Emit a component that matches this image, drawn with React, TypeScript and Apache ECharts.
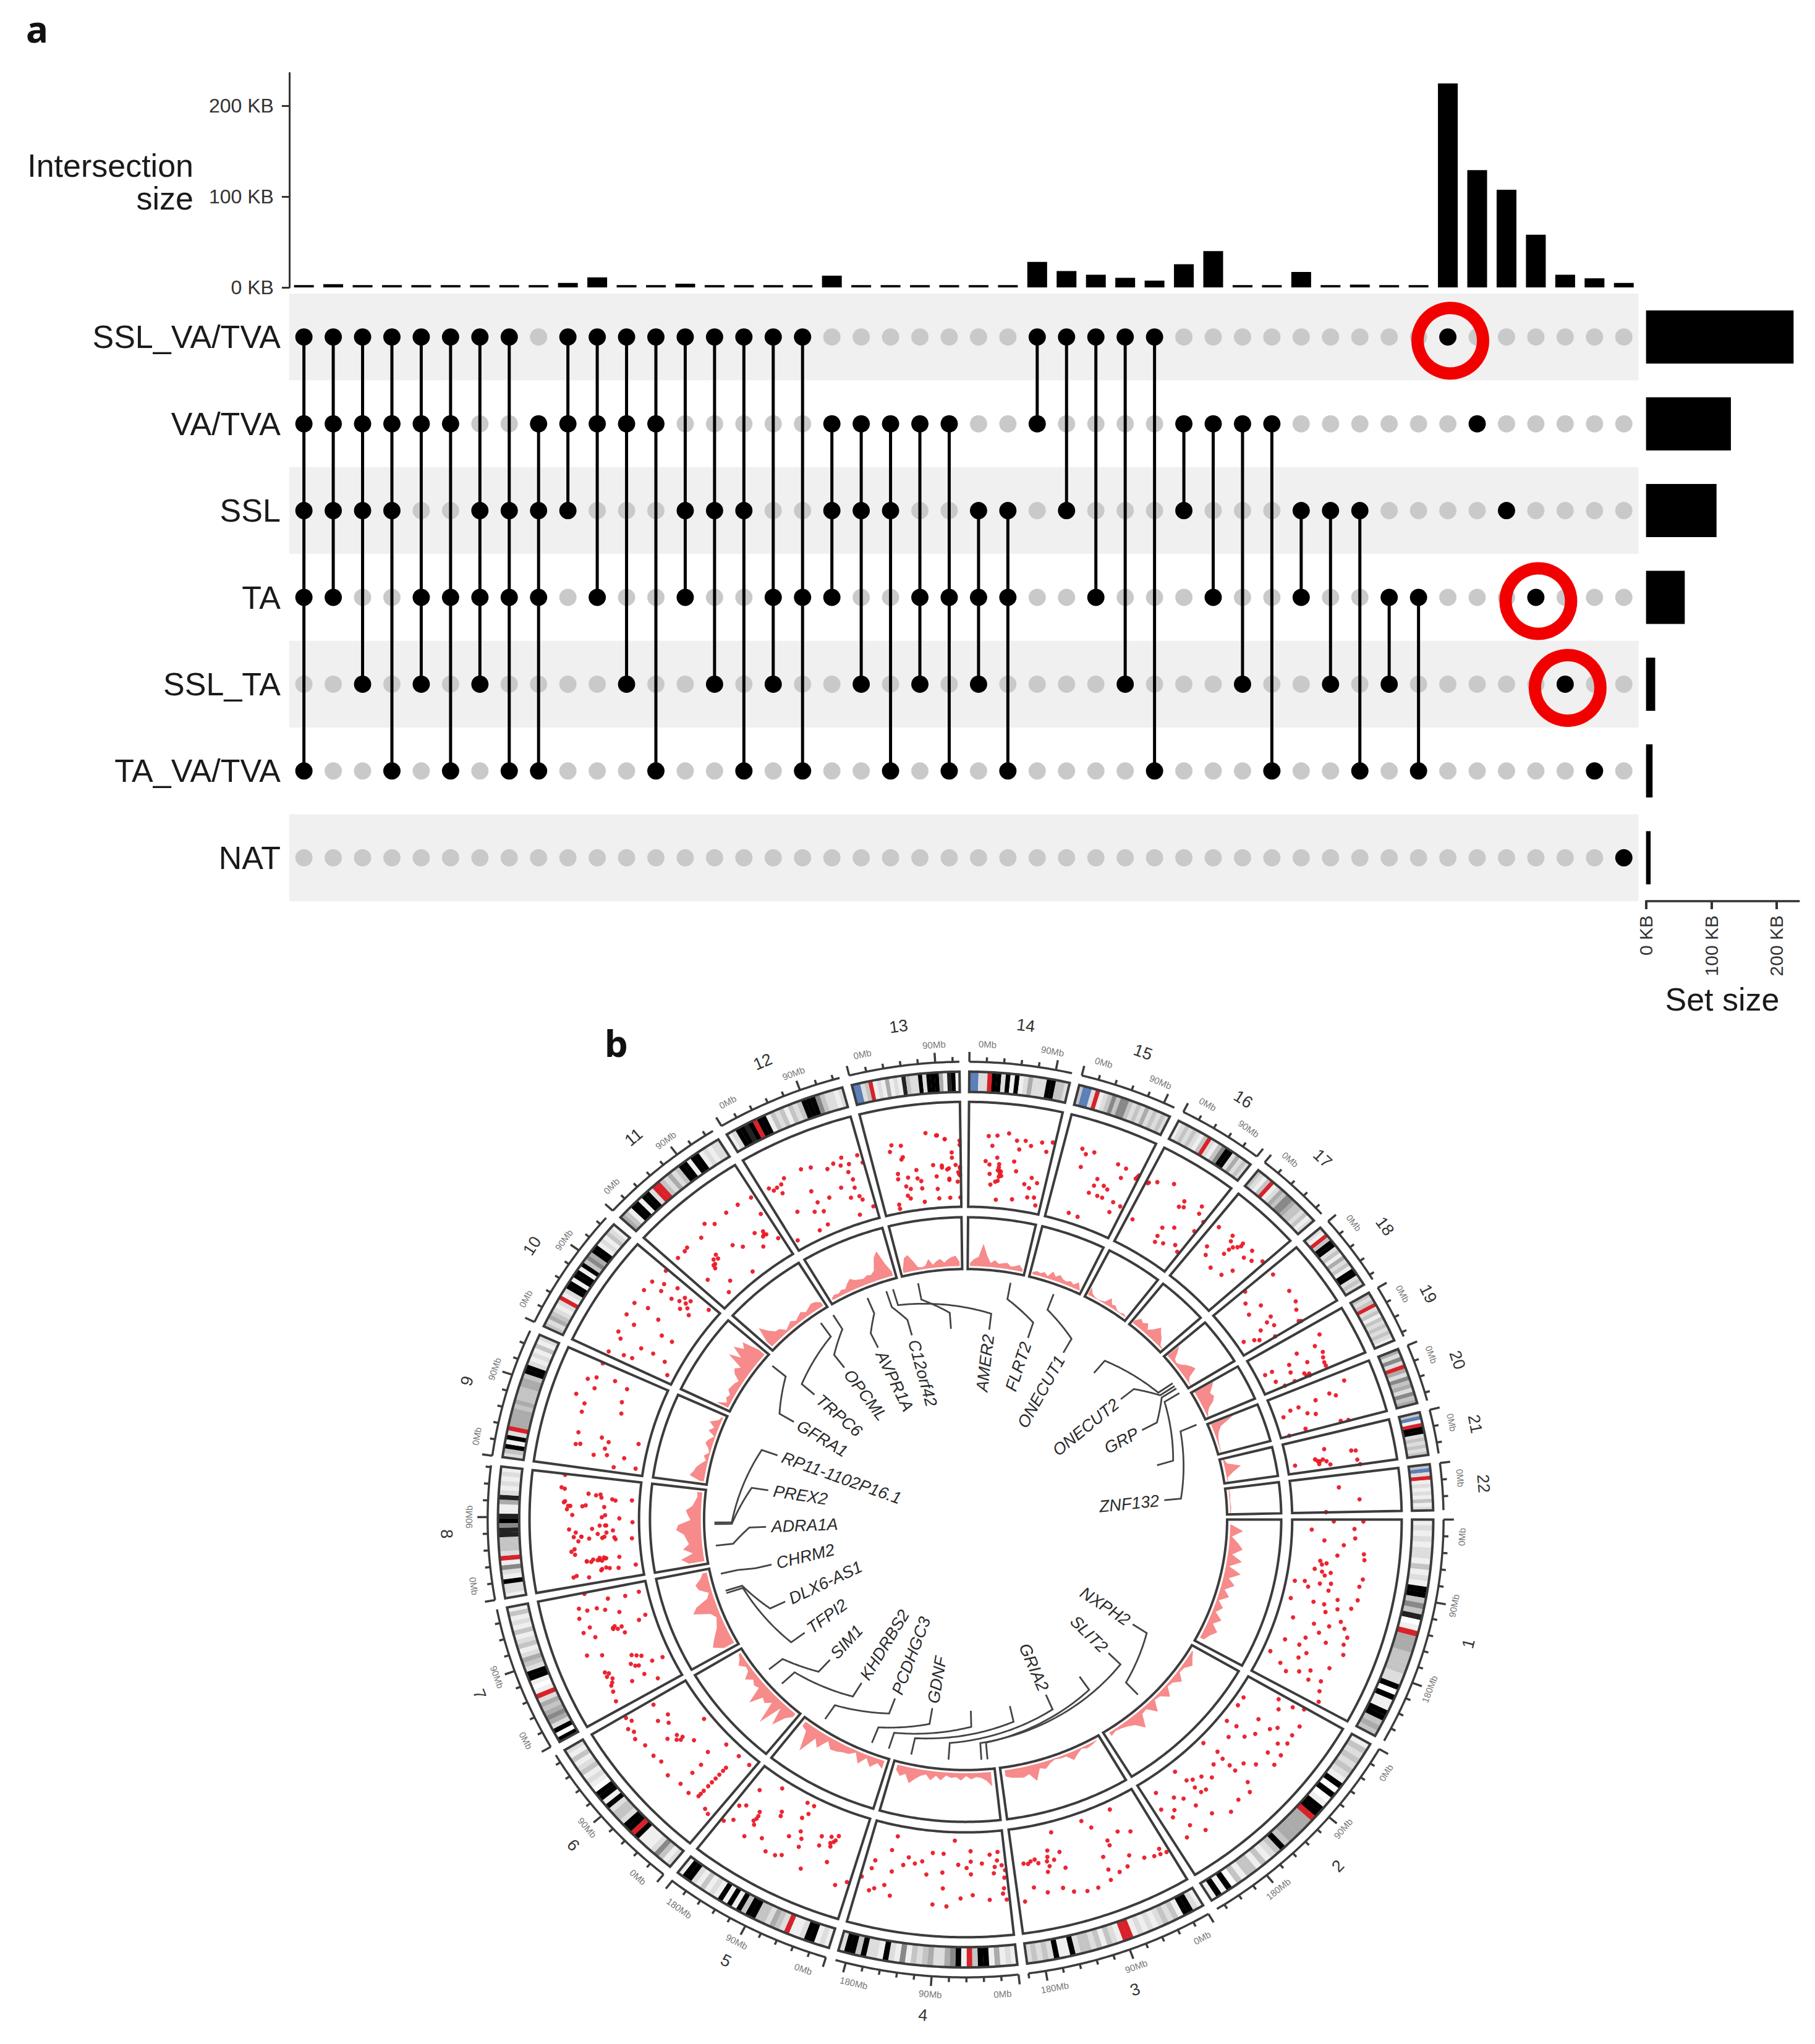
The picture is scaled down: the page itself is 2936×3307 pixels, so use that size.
import React, { useEffect, useRef } from "react";
import * as echarts from "echarts";

/* ---------- panel a: UpSet plot ---------- */
const setNames = ["SSL_VA/TVA", "VA/TVA", "SSL", "TA", "SSL_TA", "TA_VA/TVA", "NAT"];
const setSizes = [226, 130, 108, 59.3, 14, 10, 7];
const columnIds = Array.from({ length: 46 }, (_, i) => String(i + 1));
const intersectionSizes = [
  2.5, 3.5, 2.5, 2.5, 2.5, 2.5, 2.5, 2.5, 2.5, 5, 11, 2.5, 2.5, 4, 2.5, 2.5, 2.5, 2.5, 13, 2.5, 2.5, 2.5, 2.5, 2.5, 2.5,
  28, 18, 14, 10.5, 7.5, 25.5, 40, 2.5, 2.5, 17, 2.5, 3, 2.5, 2.5, 224.5, 129, 107.5, 58, 14, 10, 5,
];
const membersSslVaTva = [1, 2, 3, 4, 5, 6, 7, 8, 10, 11, 12, 13, 14, 15, 16, 17, 18, 26, 27, 28, 29, 30, 40];
const membersVaTva = [1, 2, 3, 4, 5, 6, 9, 10, 11, 12, 13, 19, 20, 21, 22, 23, 26, 31, 32, 33, 34, 41];
const membersSsl = [1, 2, 3, 4, 7, 8, 9, 10, 14, 15, 16, 19, 20, 21, 24, 25, 27, 31, 35, 36, 37, 42];
const membersTa = [1, 2, 5, 6, 7, 8, 9, 11, 14, 17, 18, 19, 22, 23, 24, 25, 28, 32, 35, 38, 39, 43];
const membersSslTa = [3, 5, 7, 12, 15, 17, 20, 22, 24, 29, 33, 36, 38, 44];
const membersTaVaTva = [1, 4, 6, 8, 9, 13, 16, 18, 21, 23, 25, 30, 34, 37, 39, 45];
const membersNat = [46];
const rowMembers = [membersSslVaTva, membersVaTva, membersSsl, membersTa, membersSslTa, membersTaVaTva, membersNat];
const highlighted = [[39, 0], [42, 3], [43, 4]];

/* ---------- panel b: circos plot ---------- */
const chromLengths = [249, 243, 198, 191, 181, 171, 159, 146, 141, 135, 135, 133, 115, 107, 102, 90, 81, 78, 59, 63, 48, 51];
const DEG_PER_MB = 0.116;
const GAP_DEG = 1.2;

const cytobands = [
  "12121221312199353801r4443333229091199343",
  "13232321909019" + "9r44444393213133130" + "9191",
  "1299132321212" + "1rr12313233" + "2911923232",
  "12141993r195422" + "43231512912293992",
  "12199211r234233" + "9939191912131" + "2991",
  "2135211" + "19r9923329199" + "0121321312",
  "9092454342r10199" + "234213213121" + "31",
  "1229125" + "1r2333" + "885981" + "148212" + "121",
  "2391" + "92r44443433344" + "3992121312",
  "3243212r129" + "91991" + "935499121321",
  "4319919" + "92rr32423" + "9919912122",
  "12998" + "9r991323132" + "3999532212",
  "bb23r" + "12141" + "21832" + "29299" + "941891",
  "bb22r9929191242229" + "9332",
  "3bb2r1235" + "3553232" + "423232",
  "123232" + "13r2135" + "9924232",
  "32" + "13r124355" + "4332312",
  "21r3992" + "31423199" + "232",
  "323r2313" + "232321",
  "4252r425" + "342534",
  "3b1r99232323",
  "3b2r12121312",
];
const bandShades = { 0: "#ffffff", 1: "#efefef", 2: "#dddddd", 3: "#c4c4c4", 4: "#ababab", 5: "#888888", 6: "#666666", 8: "#222222", 9: "#000000", r: "#d8222a", b: "#5b7fb8" };

const points1 = [[18,67],[21,68],[10,58],[31,69],[35,67],[20,43],[25,34],[29,24],[30,31],[30,39],[37,17],[37,31],[38,8],[40,21],[40,40],[49,8],[48,29],[48,39],[47,64],[42,68],[49,52],[60,15],[60,35],[59,49],[58,63],[62,68],[66,67],[71,70],[74,15],[74,29],[69,32],[84,7],[81,33],[88,20],[91,28],[88,39],[85,48],[88,61],[93,64],[98,68],[80,63],[6,18],[1,38],[5,57],[1,65],[12,30],[14,48],[44,50],[26,30],[24,28],[32,34],[36,41],[52,42],[55,58],[64,42],[68,51],[77,38],[90,50]];
const points2 = [[10,65],[21,65],[16,64],[17,49],[20,44],[19,30],[28,67],[31,56],[13,7],[19,7],[31,8],[3,35],[3,50],[1,60],[27,36],[32,30],[30,18],[38,19],[51,6],[49,21],[50,29],[50,38],[50,45],[56,27],[40,55],[34,68],[50,61],[53,69],[76,9],[74,22],[73,32],[72,39],[82,34],[93,15],[96,31],[93,43],[90,38],[75,61],[67,71],[60,67],[88,58],[83,70],[93,66],[8,40],[24,58],[44,46],[62,35],[66,28],[69,40],[71,25],[79,46],[86,28]];
const points3 = [[76,32],[78,46],[75,26],[77,36],[76,41],[90,35],[85,32],[93,34],[67,30],[66,46],[69,10],[45,8],[40,17],[22,8],[24,30],[16,35],[33,34],[33,39],[40,47],[24,55],[16,63],[6,67],[2,68],[28,64],[40,60],[34,66],[89,58],[81,65],[71,64],[65,70],[57,73],[50,73],[41,70],[96,70],[88,33],[83,36],[72,36],[5,62],[10,66]];
const points4 = [[37,8],[53,21],[45,21],[25,18],[11,22],[5,20],[34,31],[25,28],[17,30],[8,34],[3,33],[45,39],[25,40],[9,40],[4,60],[24,60],[32,63],[13,65],[44,54],[50,70],[41,71],[78,67],[83,58],[92,66],[89,63],[99,55],[94,45],[80,44],[73,36],[65,33],[60,30],[93,37],[81,10],[83,24],[2,45],[1,38],[3,55],[2,66],[6,28],[70,28],[56,42],[28,34]];
const points5 = [[81,38],[80,45],[79,51],[77,8],[66,31],[67,27],[53,8],[47,8],[51,23],[48,17],[47,35],[44,41],[31,31],[19,25],[20,30],[30,40],[22,37],[91,21],[92,40],[96,44],[98,64],[93,58],[80,65],[69,58],[62,67],[55,66],[51,63],[43,49],[35,67],[20,52],[9,70],[2,64],[53,44],[80,42],[81,48],[23,34],[21,32],[24,28]];
const points6 = [[61,33],[62,39],[67,45],[53,27],[34,38],[38,25],[18,24],[18,33],[18,43],[18,54],[18,61],[62,7],[32,8],[17,8],[5,8],[83,31],[96,37],[77,35],[83,42],[90,69],[81,69],[73,65],[63,65],[56,63],[45,67],[34,64],[34,49],[25,65],[8,66],[4,68],[98,65],[60,36],[65,36],[18,28],[18,38],[18,48],[18,58],[94,62],[86,66]];
const points7 = [[35,29],[24,8],[25,18],[26,31],[17,30],[32,62],[25,58],[15,63],[46,58],[50,71],[64,32],[65,40],[58,31],[62,58],[68,67],[71,60],[68,8],[65,15],[77,30],[82,42],[85,49],[85,58],[88,65],[80,67],[91,8],[90,21],[91,37],[99,57],[7,65],[16,43],[8,21],[30,59],[28,62],[22,60],[20,62],[37,33],[33,25],[63,36],[66,38],[64,40],[27,34],[30,37]];
const points8 = [[31,63],[28,60],[21,50],[22,33],[22,20],[12,6],[11,22],[11,38],[8,64],[40,56],[44,53],[43,32],[40,22],[40,7],[87,69],[76,68],[72,65],[64,61],[84,47],[83,40],[81,35],[79,22],[80,7],[72,32],[73,49],[99,70],[54,31],[64,31],[61,18],[57,6],[48,58],[51,43],[21,40],[20,36],[22,44],[23,38],[12,30],[44,60],[46,38],[6,50],[88,72],[75,69],[72,63],[69,66],[72,52],[84,36],[80,25],[62,34],[54,36],[54,30],[51,64],[44,53],[42,46],[42,34],[42,23],[33,60],[21,50],[21,38],[22,32],[12,37],[9,61],[20,46],[23,34],[13,33],[47,30],[49,24]];
const points9 = [[99,65],[85,65],[81,72],[71,35],[88,48],[85,35],[65,77],[59,67],[75,63],[32,65],[22,61],[21,65],[32,43],[29,36],[22,38],[16,35],[16,19],[34,9],[60,32],[51,67],[14,47],[5,27],[7,7]];
const points10 = [[98,64],[87,57],[82,67],[71,68],[80,55],[80,43],[77,31],[82,26],[77,21],[92,45],[89,34],[56,68],[43,68],[25,66],[20,61],[21,40],[22,28],[7,51],[8,43],[55,41],[43,30],[43,19],[4,65],[20,15],[8,7],[59,55],[38,57],[95,10],[90,28],[85,30],[83,36]];
const points11 = [[20,65],[16,64],[36,63],[54,65],[47,71],[69,67],[82,67],[96,66],[95,48],[87,33],[84,29],[79,36],[61,32],[54,39],[78,21],[26,36],[34,38],[11,30],[35,42],[27,15],[52,8],[17,8],[96,20],[7,64],[25,33],[28,36],[30,40],[88,29],[86,30]];
const points12 = [[7,65],[24,67],[42,68],[65,59],[51,66],[81,65],[96,63],[86,57],[99,55],[42,45],[43,33],[56,33],[71,38],[84,34],[86,25],[77,26],[88,21],[97,12],[36,26],[45,23],[20,33],[43,10],[80,8],[5,9],[32,8],[10,61],[16,55],[85,42],[83,50],[78,58],[72,62],[14,62],[19,63]];
const points13 = [[25,65],[35,63],[35,52],[26,37],[37,32],[48,30],[38,21],[33,15],[20,8],[83,65],[74,69],[99,63],[90,52],[84,36],[68,41],[78,38],[98,31],[99,38],[86,26],[71,18],[72,9],[86,9],[99,9],[96,24],[97,33],[94,40],[99,59],[99,37],[99,30],[86,37],[86,27],[90,47],[71,30],[78,40],[52,27],[52,20],[48,38],[33,24],[36,12],[53,7],[25,32],[20,4],[22,59],[33,50],[63,72],[75,69],[83,65]];
const points14 = [[23,68],[33,69],[46,72],[28,59],[56,66],[66,67],[73,63],[85,68],[97,70],[92,60],[60,58],[21,44],[35,48],[38,39],[41,35],[26,41],[27,32],[38,26],[29,22],[56,46],[60,37],[81,33],[73,26],[80,23],[89,29],[38,8],[60,10],[80,14],[89,15],[93,8],[39,30],[37,36],[39,36],[38,42],[35,25],[40,33],[42,31]];
const points15 = [[23,71],[38,71],[29,67],[28,54],[70,68],[81,67],[80,57],[98,64],[53,48],[52,41],[64,44],[70,42],[49,33],[61,33],[68,33],[84,33],[95,32],[85,23],[32,9],[46,8],[97,62],[99,66]];
const points16 = [[3,63],[14,68],[35,74],[60,65],[58,58],[64,60],[84,70],[87,63],[99,59],[97,47],[70,39],[55,33],[56,24],[58,18],[70,21],[87,26],[9,26],[96,22],[4,64]];
const points17 = [[10,64],[35,66],[55,67],[39,61],[53,61],[45,48],[46,54],[73,68],[96,68],[84,61],[16,43],[24,36],[45,30],[67,32],[75,42],[72,58],[56,64],[48,58]];
const points18 = [[10,67],[47,69],[67,68],[79,64],[3,37],[20,30],[39,40],[40,26],[65,41],[70,35],[81,39],[76,26],[97,60],[99,62],[77,7],[99,34],[90,20],[85,16]];
const points19 = [[26,70],[44,61],[63,65],[74,63],[85,62],[41,43],[57,32],[75,30],[69,48],[54,8],[54,15],[81,14],[99,45],[97,42],[98,30],[99,20],[93,62],[95,45],[90,41]];
const points20 = [[19,72],[42,60],[34,55],[38,41],[41,24],[42,16],[52,8],[67,37],[93,24],[96,57],[98,64],[99,8],[60,30]];
const points21 = [[41,36],[66,26],[70,33],[77,36],[82,29],[88,39],[59,60],[61,64],[86,64],[99,66],[75,7],[72,28],[74,30]];
const points22 = [[33,44],[68,62],[99,31]];
const scatterByChrom = [points1, points2, points3, points4, points5, points6, points7, points8, points9, points10, points11, points12, points13, points14, points15, points16, points17, points18, points19, points20, points21, points22];

const density1 = [8, 30, 10, 22, 32, 14, 34, 12, 36, 16, 30, 14, 26, 10, 22, 12, 28, 16, 30, 20, 14];
const density2 = [8, 14, 22, 12, 10, 24, 12, 10, 26, 12, 10, 30, 12, 14, 38, 22, 16, 12, 10, 14];
const density3 = [6, 10, 12, 8, 14, 22, 10, 10, 8, 12, 20, 16, 38, 22, 26, 24, 22, 18];
const density4 = [34, 22, 16, 14, 18, 12, 20, 14, 16, 12, 22, 14, 24, 14, 18, 26, 36, 20, 26, 16];
const density5 = [22, 14, 26, 12, 28, 10, 18, 20, 24, 26, 14, 36, 22, 58, 20, 16];
const density6 = [14, 25, 50, 16, 62, 20, 30, 25, 50, 18, 22, 16, 28, 14, 12, 22, 14, 10];
const density7 = [28, 45, 38, 30, 22, 18, 14, 22, 52, 42, 18, 12, 28, 32, 20, 14];
const density8 = [35, 48, 25, 42, 30, 34, 38, 52, 48, 25, 30, 34, 22, 18, 14, 16];
const density9 = [14, 34, 28, 25, 18, 10, 16, 8, 12, 20, 16, 8, 22, 14, 26, 12, 8];
const density10 = [30, 12, 18, 14, 22, 20, 18, 14, 28, 34, 25, 58, 36, 60, 42, 52, 20];
const density11 = [20, 48, 32, 22, 20, 10, 14, 18, 12, 16, 20, 14, 18, 22, 20, 14];
const density12 = [10, 14, 12, 16, 14, 22, 28, 22, 20, 18, 22, 20, 26, 50, 60, 32, 14];
const density13 = [12, 34, 38, 26, 12, 10, 12, 24, 12, 18, 22, 14, 20, 24, 26, 14];
const density14 = [12, 20, 24, 50, 28, 14, 20, 14, 16, 18, 12, 14, 18, 10];
const density15 = [10, 14, 12, 16, 10, 22, 14, 20, 14, 12, 16, 12, 20, 8];
const density16 = [22, 12, 8, 6, 8, 10, 22, 12, 14, 8, 6, 10, 4];
const density17 = [12, 22, 18, 24, 14, 22, 34, 26, 20, 10, 6];
const density18 = [34, 24, 12, 10, 14, 22, 28, 32, 14, 8, 4];
const density19 = [46, 38, 30, 34, 28, 16, 10, 6];
const density20 = [50, 22, 14, 10, 8, 6, 4];
const density21 = [8, 12, 36, 20, 8, 4];
const density22 = [4, 8, 4, 8, 4];
const densityByChrom = [density1, density2, density3, density4, density5, density6, density7, density8, density9, density10, density11, density12, density13, density14, density15, density16, density17, density18, density19, density20, density21, density22];

const geneNames = ["NXPH2", "SLIT2", "", "GRIA2", "", "", "GDNF", "PCDHGC3", "KHDRBS2", "SIM1", "TFPI2", "DLX6-AS1", "CHRM2", "ADRA1A", "PREX2", "RP11-1102P16.1", "GFRA1", "TRPC6", "OPCML", "AVPR1A", "C12orf42", "AMER2", "", "FLRT2", "ONECUT1", "", "ONECUT2", "GRP", "", "ZNF132"];
const geneAngles = [46.7, 86.4, 85, 93.9, 102.5, 107.8, 111.9, 124, 137, 141.5, 162.2, 162.8, 167, 173.8, 178.9, 179.3, 219.7, 234.8, 238.2, 247, 251.6, 253.2, 259.1, 280.3, 290.5, 325.5, 326.3, 327, 328.3, 336.8];
const labelAngles = [33.2, 44.3, 55.2, 66.3, 77.2, 88.5, 99.6, 110.7, 121.4, 132.8, 143.7, 154.6, 166.4, 177.8, 188.8, 199.6, 210.7, 220.8, 232.6, 244, 254.4, 276.8, 265.8, 288.2, 299.3, 310, 321, 332.1, 343.5, 354.2];

/* ---------- geometry of the tracks, in unit radii ---------- */
const R = { axis: 742, tickMinor: 750, tickMajor: 758, mbLabel: 771, chromLabel: 806, ideoOuter: 726, ideoInner: 693, scatterOuter: 677, scatterInner: 507, densOuter: 490, densInner: 406, geneA: 390, geneB: 363, geneC: 336, geneD: 310, geneText: 302 };
const FONT = '"Liberation Sans", Arial, sans-serif';
const ASPECT = 1.042;

const chromStart: number[] = [];
const chromEnd: number[] = [];
chromLengths.reduce((a, len, i) => {
  chromStart[i] = a;
  chromEnd[i] = a + len * DEG_PER_MB;
  return chromEnd[i] + GAP_DEG;
}, 0);

const polar = (r: number, deg: number) => {
  const t = (deg * Math.PI) / 180;
  return [r * Math.cos(t), r * Math.sin(t)];
};
const arcPoints = (r: number, a: number, b: number) => {
  const n = Math.max(2, Math.ceil(Math.abs(b - a) / 0.5));
  return Array.from({ length: n + 1 }, (_, i) => polar(r, a + ((b - a) * i) / n));
};
const annular = (r0: number, r1: number, a: number, b: number) => [...arcPoints(r1, a, b), ...arcPoints(r0, b, a)];
const textRotation = (deg: number) => {
  const d = ((deg % 360) + 360) % 360;
  const rot = d > 180 ? 270 - d : 90 - d;
  return (rot * Math.PI) / 180;
};

const bands: { a: number; b: number; color: string }[] = [];
cytobands.forEach((code, c) => {
  const w = (chromEnd[c] - chromStart[c]) / code.length;
  code.split("").forEach((ch, i) => {
    bands.push({ a: chromStart[c] + i * w, b: chromStart[c] + (i + 1) * w, color: (bandShades as any)[ch] ?? "#eeeeee" });
  });
});

const axisTicks: { deg: number; major: boolean; label: string; labelDeg: number }[] = [];
chromLengths.forEach((len, c) => {
  for (let mb = 0; mb <= len; mb += 18) {
    const major = mb % 90 === 0;
    const labelMb = Math.max(18, Math.min(mb, len - 24));
    axisTicks.push({ deg: chromStart[c] + mb * DEG_PER_MB, major, label: major ? `${mb}Mb` : "", labelDeg: chromStart[c] + labelMb * DEG_PER_MB });
  }
});

const scatterPoints = scatterByChrom.flatMap((pts, c) =>
  pts.map(([f, v]) => polar(R.scatterInner + ((R.scatterOuter - R.scatterInner) * v) / 100, chromStart[c] + ((chromEnd[c] - chromStart[c]) * f) / 100))
);

const leaderPath = (i: number) => {
  const g = geneAngles[i];
  const l = labelAngles[i];
  const pts = [polar(R.geneA, g)];
  for (let k = 0; k <= 30; k++) {
    pts.push(polar(R.geneB + ((R.geneC - R.geneB) * k) / 30, g + ((l - g) * k) / 30));
  }
  pts.push(polar(R.geneD, l));
  return pts;
};

const silentCustom = (renderItem: any, count: number, z: number) => ({
  type: "custom",
  coordinateSystem: "cartesian2d",
  xAxisIndex: 3,
  yAxisIndex: 3,
  clip: false,
  silent: true,
  z,
  data: Array.from({ length: count }, () => [0, 0]),
  renderItem,
});

const buildOption = () => {
  const rowsGray: number[][] = [];
  const rowsBlack: number[][] = [];
  columnIds.forEach((_, col) => {
    rowMembers.forEach((m, row) => {
      (m.includes(col + 1) ? rowsBlack : rowsGray).push([col, row]);
    });
  });
  const spans = columnIds
    .map((_, col) => {
      const rows = rowMembers.flatMap((m, row) => (m.includes(col + 1) ? [row] : []));
      return { col, min: Math.min(...rows), max: Math.max(...rows) };
    })
    .filter((s) => s.max > s.min);

  const toPoints = (api: any, pts: number[][]) => pts.map((p) => api.coord(p));
  const outlineStyle = { fill: "none", stroke: "#3c3c3c", lineWidth: 4 };
  const sectorOutline = (r0: number, r1: number) => (p: any, api: any) => ({
    type: "polygon",
    shape: { points: toPoints(api, annular(r0, r1, chromStart[p.dataIndex], chromEnd[p.dataIndex])) },
    style: outlineStyle,
  });
  const centered = { align: "center", verticalAlign: "middle", textAlign: "center", textVerticalAlign: "middle" };
  const rightMid = { align: "right", verticalAlign: "middle", textAlign: "right", textVerticalAlign: "middle" };

  return {
    animation: false,
    backgroundColor: "#ffffff",
    tooltip: { show: false },
    grid: [
      { left: 467.9, width: 2182.6, top: 118, height: 347 },
      { left: 467.9, width: 2182.6, top: 475, height: 983 },
      { left: 2662.7, width: 247.3, top: 475, height: 983 },
      { left: 1562 - 850 * ASPECT, width: 1700 * ASPECT, top: 2460 - 850, height: 1700 },
    ],
    xAxis: [
      { gridIndex: 0, type: "category", data: columnIds, show: false },
      { gridIndex: 1, type: "category", data: columnIds, show: false },
      {
        gridIndex: 2,
        type: "value",
        min: 0,
        max: 234.2,
        position: "bottom",
        splitLine: { show: false },
        axisLine: { show: true, lineStyle: { color: "#333", width: 3.5 } },
        axisTick: { show: true, length: 13, lineStyle: { color: "#333", width: 4 }, customValues: [0, 100, 200] },
        axisLabel: { rotate: 90, margin: 23, fontSize: 30, color: "#333", fontFamily: FONT, customValues: [0, 100, 200], formatter: (v: number) => `${v} KB` },
      },
      { gridIndex: 3, type: "value", min: -850, max: 850, show: false },
    ],
    yAxis: [
      {
        gridIndex: 0,
        type: "value",
        min: 0,
        max: 236,
        splitLine: { show: false },
        axisLine: { show: true, lineStyle: { color: "#333", width: 3 } },
        axisTick: { show: true, length: 12, lineStyle: { color: "#333", width: 3 }, customValues: [0, 100, 200] },
        axisLabel: { margin: 25, fontSize: 32, color: "#333", fontFamily: FONT, customValues: [0, 100, 200], formatter: (v: number) => `${v} KB` },
      },
      {
        gridIndex: 1,
        type: "category",
        inverse: true,
        data: setNames,
        axisLine: { show: false },
        axisTick: { show: false },
        axisLabel: { margin: 14, fontSize: 52, color: "#1a1a1a", fontFamily: FONT },
        splitArea: { show: true, areaStyle: { color: ["#f0f0f0", "#ffffff"] } },
      },
      { gridIndex: 2, type: "category", inverse: true, data: setNames, show: false },
      { gridIndex: 3, type: "value", min: -850, max: 850, inverse: true, show: false },
    ],
    graphic: [
      { type: "text", x: 60, y: 46, style: { text: "a", font: `bold 60px "Noto Sans", sans-serif`, fill: "#111", ...centered } },
      { type: "text", x: 997, y: 1687, style: { text: "b", font: `bold 60px "Noto Sans", sans-serif`, fill: "#111", ...centered } },
      { type: "text", x: 313, y: 268, style: { text: "Intersection", font: `52px ${FONT}`, fill: "#1a1a1a", ...rightMid } },
      { type: "text", x: 313, y: 321, style: { text: "size", font: `52px ${FONT}`, fill: "#1a1a1a", ...rightMid } },
      { type: "text", x: 2786, y: 1617, style: { text: "Set size", font: `52px ${FONT}`, fill: "#1a1a1a", ...centered } },
    ],
    series: [
      { name: "Intersection size", type: "bar", xAxisIndex: 0, yAxisIndex: 0, data: intersectionSizes, barWidth: 32, itemStyle: { color: "#000" }, silent: true },
      { name: "Unused sets", type: "scatter", xAxisIndex: 1, yAxisIndex: 1, data: rowsGray, symbolSize: 28, itemStyle: { color: "#c9c9c9", opacity: 1 }, silent: true, z: 2 },
      {
        name: "Links",
        type: "custom",
        xAxisIndex: 1,
        yAxisIndex: 1,
        silent: true,
        z: 3,
        data: spans.map(() => [0, 0]),
        renderItem: (p: any, api: any) => {
          const s = spans[p.dataIndex];
          const a = api.coord([s.col, s.min]);
          const b = api.coord([s.col, s.max]);
          return { type: "line", shape: { x1: a[0], y1: a[1], x2: b[0], y2: b[1] }, style: { stroke: "#000", lineWidth: 5 } };
        },
      },
      { name: "Member sets", type: "scatter", xAxisIndex: 1, yAxisIndex: 1, data: rowsBlack, symbolSize: 28, itemStyle: { color: "#000", opacity: 1 }, silent: true, z: 4 },
      {
        name: "Highlights",
        type: "scatter",
        xAxisIndex: 1,
        yAxisIndex: 1,
        data: highlighted,
        symbol: "circle",
        symbolSize: 106,
        symbolOffset: [4, 6],
        itemStyle: { color: "rgba(0,0,0,0)", borderColor: "#f20000", borderWidth: 20, opacity: 1 },
        silent: true,
        z: 5,
      },
      { name: "Set size", type: "bar", xAxisIndex: 2, yAxisIndex: 2, data: setSizes, barWidth: 86, itemStyle: { color: "#000" }, silent: true },

      silentCustom(
        (p: any, api: any) => {
          const b = bands[p.dataIndex];
          return { type: "polygon", shape: { points: toPoints(api, annular(R.ideoInner, R.ideoOuter, b.a, b.b + 0.02)) }, style: { fill: b.color } };
        },
        bands.length,
        5
      ),
      silentCustom(sectorOutline(R.ideoInner, R.ideoOuter), chromLengths.length, 6),
      silentCustom(sectorOutline(R.scatterInner, R.scatterOuter), chromLengths.length, 6),
      silentCustom(sectorOutline(R.densInner, R.densOuter), chromLengths.length, 6),
      silentCustom(
        (p: any, api: any) => {
          const c = p.dataIndex;
          const d = densityByChrom[c];
          const span = chromEnd[c] - chromStart[c];
          const pad = span * 0.04;
          const rAt = (v: number) => R.densInner + ((R.densOuter - R.densInner) * v) / 100;
          const top = d.map((v, i) => polar(rAt(Math.max(v, 7)), chromStart[c] + pad + ((span - 2 * pad) * i) / (d.length - 1)));
          const base = arcPoints(rAt(6), chromEnd[c] - pad, chromStart[c] + pad);
          return { type: "polygon", shape: { points: toPoints(api, [...top, ...base]) }, style: { fill: "#f78a8a" } };
        },
        chromLengths.length,
        5
      ),
      { name: "Scatter", type: "scatter", xAxisIndex: 3, yAxisIndex: 3, data: scatterPoints, symbolSize: 7, itemStyle: { color: "#ea1a28", opacity: 0.95 }, silent: true, z: 5, clip: false },
      silentCustom(
        (p: any, api: any) => ({
          type: "polyline",
          shape: { points: toPoints(api, arcPoints(R.axis, chromStart[p.dataIndex], chromEnd[p.dataIndex])) },
          style: { fill: null, stroke: "#3c3c3c", lineWidth: 3.5 },
        }),
        chromLengths.length,
        6
      ),
      silentCustom(
        (p: any, api: any) => {
          const t = axisTicks[p.dataIndex];
          const a = api.coord(polar(R.axis, t.deg));
          const b = api.coord(polar(t.major ? R.tickMajor : R.tickMinor, t.deg));
          const children: any[] = [{ type: "line", shape: { x1: a[0], y1: a[1], x2: b[0], y2: b[1] }, style: { stroke: "#3c3c3c", lineWidth: 3.5 } }];
          if (t.label) {
            const q = api.coord(polar(R.mbLabel, t.labelDeg));
            children.push({ type: "text", x: q[0], y: q[1], rotation: textRotation(t.labelDeg), style: { text: t.label, font: `15px ${FONT}`, fill: "#777", ...centered } });
          }
          return { type: "group", children };
        },
        axisTicks.length,
        6
      ),
      silentCustom(
        (p: any, api: any) => {
          const c = p.dataIndex;
          const mid = (chromStart[c] + chromEnd[c]) / 2;
          const q = api.coord(polar(R.chromLabel, mid));
          return { type: "text", x: q[0], y: q[1], rotation: textRotation(mid), style: { text: String(c + 1), font: `27px ${FONT}`, fill: "#333", ...centered } };
        },
        chromLengths.length,
        6
      ),
      silentCustom(
        (p: any, api: any) => ({
          type: "polyline",
          shape: { points: toPoints(api, leaderPath(p.dataIndex)) },
          style: { fill: null, stroke: "#444", lineWidth: 2.8 },
        }),
        geneAngles.length,
        6
      ),
      silentCustom(
        (p: any, api: any) => {
          const deg = labelAngles[p.dataIndex];
          const name = geneNames[p.dataIndex];
          const q = api.coord(polar(R.geneText, deg));
          const right = Math.cos((deg * Math.PI) / 180) >= 0;
          const rot = right ? -deg : 180 - deg;
          const align = right ? "right" : "left";
          return {
            type: "text",
            x: q[0],
            y: q[1],
            rotation: (rot * Math.PI) / 180,
            style: { text: name, font: `italic 27px ${FONT}`, fill: "#2a2a2a", align, verticalAlign: "middle", textAlign: align, textVerticalAlign: "middle" },
          };
        },
        geneNames.length,
        6
      ),
    ],
  };
};

export default function App() {
  const ref = useRef<HTMLDivElement>(null);
  useEffect(() => {
    document.body.style.margin = "0";
    const chart = echarts.init(ref.current!, undefined, { renderer: "svg" });
    chart.setOption(buildOption() as any);
    return () => chart.dispose();
  }, []);
  return <div ref={ref} style={{ position: "absolute", left: 0, top: 0, width: 2936, height: 3307 }} />;
}
